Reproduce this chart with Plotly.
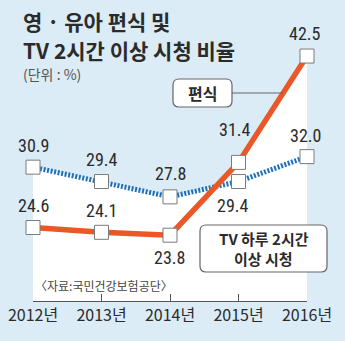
import plotly.graph_objects as go

# ---- data ----
years = [2012, 2013, 2014, 2015, 2016]
year_labels = ["2012년", "2013년", "2014년", "2015년", "2016년"]
picky = [24.6, 24.1, 23.8, 31.4, 42.5]          # 편식
tv = [30.9, 29.4, 27.8, 29.4, 32.0]             # TV 하루 2시간 이상 시청

# ---- style ----
BG = "rgb(219,236,247)"
ORANGE = "rgb(234,88,40)"
BLUE = "rgb(30,112,184)"
TXT = "#2b2b2b"
NUM_FONT = "Liberation Sans Narrow, Arial Narrow, Roboto Condensed, Roboto, sans-serif"
KR_FONT = "Noto Sans CJK KR, Noto Sans, sans-serif"
MIX_FONT = "Liberation Sans Narrow, Noto Sans CJK KR, sans-serif"

W, H = 345, 341
L, R, T, B = 33, 38, 0, 40
PW, PH = W - L - R, H - T - B


def px(x, y):
    """pixel position -> paper coords"""
    return (x - L) / PW, (PH + T - y) / PH


# upper envelope of both series (white area)
env_x, env_y = [], []
for i in range(len(years)):
    env_x.append(years[i])
    env_y.append(max(picky[i], tv[i]))
    if i < len(years) - 1:
        d0 = picky[i] - tv[i]
        d1 = picky[i + 1] - tv[i + 1]
        if d0 * d1 < 0:
            t = d0 / (d0 - d1)
            env_x.append(years[i] + t * (years[i + 1] - years[i]))
            env_y.append(picky[i] + t * (picky[i + 1] - picky[i]))

fig = go.Figure()
fig.add_trace(go.Scatter(x=env_x, y=env_y, mode="lines", fill="tozeroy",
                         fillcolor="white", line=dict(width=0, color="white"),
                         hoverinfo="skip", showlegend=False))
fig.add_trace(go.Scatter(x=years, y=tv, mode="lines",
                         line=dict(color=BLUE, width=5, dash="2px,1.6px"),
                         showlegend=False))
fig.add_trace(go.Scatter(x=years, y=picky, mode="lines",
                         line=dict(color=ORANGE, width=5.5),
                         showlegend=False))
for ser in (tv, picky):
    fig.add_trace(go.Scatter(x=years, y=ser, mode="markers", cliponaxis=False,
                             marker=dict(symbol="square", size=14, color="white",
                                         line=dict(color="#7a7a7a", width=1)),
                             showlegend=False))

# value labels (offsets in px)
tv_off = [(0, 22), (0, 22), (0, 23), (-6, -24), (-2, 21)]
pk_off = [(0, 22), (0, 22), (-1, -22), (-4, 33), (-2, 23)]
anns = []
for ser, offs in ((tv, tv_off), (picky, pk_off)):
    for xv, yv, (dx, dy) in zip(years, ser, offs):
        anns.append(dict(x=xv, y=yv, xref="x", yref="y", text=f"{yv:.1f}",
                         showarrow=False, xshift=dx, yshift=dy,
                         xanchor="center", yanchor="middle",
                         font=dict(family=NUM_FONT, size=18, color=TXT)))

# title & notes
for text, y, size, bold, col in (("영 · 유아 편식 및", 21, 21, True, TXT),
                                 ("TV 2시간 이상 시청 비율", 50, 21, True, TXT),
                                 ("(단위 : %)", 74, 14, False, "#555")):
    xp, yp = px(21, y)
    anns.append(dict(x=xp, y=yp, xref="paper", yref="paper", xanchor="left",
                     yanchor="middle", showarrow=False,
                     text=f"<b>{text}</b>" if bold else text,
                     font=dict(family=KR_FONT, size=size, color=col)))

xp, yp = px(33, 285)
anns.append(dict(x=xp, y=yp, xref="paper", yref="paper", xanchor="left",
                 yanchor="middle", showarrow=False, text="〈자료:국민건강보험공단〉",
                 font=dict(family=KR_FONT, size=12, color="#444")))

# legend boxes
for text, cx, cy, fs in (("편식", 202.5, 93, 16), ("TV 하루 2시간", 263.5, 238.5, 15),
                         ("이상 시청", 263.5, 258.5, 15)):
    xp, yp = px(cx, cy)
    anns.append(dict(x=xp, y=yp, xref="paper", yref="paper", showarrow=False,
                     xanchor="center", yanchor="middle", text=f"<b>{text}</b>",
                     font=dict(family=MIX_FONT, size=fs, color=TXT)))


def rrect(x0, y0, x1, y1, r=6):
    a0, b0 = px(x0, y0)
    a1, b1 = px(x1, y1)
    rx, ry = r / PW, r / PH
    p = (f"M{a0+rx},{b0} L{a1-rx},{b0} Q{a1},{b0} {a1},{b0-ry} "
         f"L{a1},{b1+ry} Q{a1},{b1} {a1-rx},{b1} L{a0+rx},{b1} "
         f"Q{a0},{b1} {a0},{b1+ry} L{a0},{b0-ry} Q{a0},{b0} {a0+rx},{b0} Z")
    return dict(type="path", path=p, xref="paper", yref="paper",
                line=dict(color="#666", width=1.2), fillcolor="white", layer="above")


shapes = []
# connectors
a0, b0 = px(232, 93)
a1, b1 = px(283, 93)
shapes.append(dict(type="line", xref="paper", yref="paper", x0=a0, y0=b0, x1=a1, y1=b1,
                   line=dict(color="#666", width=1.2), layer="above"))
a0, b0 = px(305, 163)
a1, b1 = px(305, 225)
shapes.append(dict(type="line", xref="paper", yref="paper", x0=a0, y0=b0, x1=a1, y1=b1,
                   line=dict(color="#666", width=1.2), layer="below"))
shapes.append(rrect(173, 79, 232, 107))
shapes.append(rrect(200, 225, 327, 272))

fig.update_layout(
    width=W, height=H, autosize=False,
    margin=dict(l=L, r=R, t=T, b=B, pad=0),
    paper_bgcolor=BG, plot_bgcolor="rgba(0,0,0,0)",
    showlegend=False, annotations=anns, shapes=shapes,
    xaxis=dict(range=[years[0], years[-1]], tickvals=years, ticktext=year_labels,
               showgrid=False, zeroline=False, showline=True, linecolor="#555",
               linewidth=1.2, ticks="inside", ticklen=7, tickcolor="#555",
               tickfont=dict(family=MIX_FONT, size=16, color=TXT), fixedrange=True),
    yaxis=dict(range=[16.93, 48.35], visible=False, fixedrange=True),
)

fig.write_html("out.html")
